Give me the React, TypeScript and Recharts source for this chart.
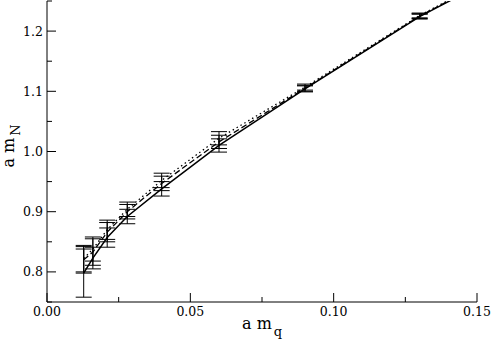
import { ErrorBar, Line, LineChart, XAxis, YAxis } from "recharts";

const mq = [0.0128, 0.016, 0.021, 0.028, 0.04, 0.06, 0.09, 0.13, 0.15];
const solidMN = [0.798, 0.823, 0.857, 0.892, 0.938, 1.01, 1.104, 1.224, 1.274];
const solidErr = [0.04, 0.018, 0.016, 0.012, 0.012, 0.011, 0.005, 0.004, null];
const dashedMN = [0.82, 0.833, 0.866, 0.9, 0.947, 1.016, 1.105, 1.225, 1.275];
const dashedErr = [0.022, 0.022, 0.016, 0.012, 0.012, 0.011, 0.005, 0.004, null];
const dottedMN = [0.822, 0.838, 0.87, 0.904, 0.952, 1.022, 1.107, 1.226, 1.276];
const dottedErr = [0.022, 0.02, 0.016, 0.012, 0.012, 0.011, 0.005, 0.004, null];

const xTicks = [0, 0.025, 0.05, 0.075, 0.1, 0.125, 0.15];
const xLabels = ["0.00", "", "0.05", "", "0.10", "", "0.15"];
const yTicks = [0.75, 0.8, 0.85, 0.9, 0.95, 1.0, 1.05, 1.1, 1.15, 1.2, 1.25];
const yLabels = ["", "0.8", "", "0.9", "", "1.0", "", "1.1", "", "1.2", ""];

const series = (ys: number[], errs: (number | null)[]) =>
  mq.map((x, i) => ({ x, y: ys[i], err: errs[i] }));

const font = '"DejaVu Serif", serif';
const GAP = 4;

function BottomTick(props: any) {
  const { x, y, index } = props;
  const major = xLabels[index] !== "";
  const axisY = y - GAP;
  return (
    <g>
      <line x1={x} x2={x} y1={axisY} y2={axisY - (major ? 9 : 5)} stroke="#000" />
      {major && (
        <text x={x} y={y + 10} textAnchor="middle" fontFamily={font} fontSize={12.5} fill="#000">
          {xLabels[index]}
        </text>
      )}
    </g>
  );
}

function TopTick(props: any) {
  const { x, y, index } = props;
  const major = xLabels[index] !== "";
  return <line x1={x} x2={x} y1={y} y2={y + (major ? 9 : 5)} stroke="#000" />;
}

function LeftTick(props: any) {
  const { x, y, index } = props;
  const major = yLabels[index] !== "";
  const axisX = x + GAP;
  return (
    <g>
      <line x1={axisX} x2={axisX + (major ? 9 : 5)} y1={y} y2={y} stroke="#000" />
      {major && (
        <text x={x} y={y + 4.5} textAnchor="end" fontFamily={font} fontSize={12.5} fill="#000">
          {yLabels[index]}
        </text>
      )}
    </g>
  );
}

function RightTick(props: any) {
  const { x, y, index } = props;
  const major = yLabels[index] !== "";
  return <line x1={x} x2={x - (major ? 9 : 5)} y1={y} y2={y} stroke="#000" />;
}

export default function App() {
  return (
    <div style={{ width: 491, height: 343, background: "#fff" }}>
      <style>{"body{margin:0}"}</style>
      <LineChart width={491} height={343} margin={{ top: 1, right: 14, left: 0, bottom: 0 }}>
        <XAxis
          xAxisId="b"
          type="number"
          dataKey="x"
          domain={[0, 0.15]}
          ticks={xTicks}
          interval={0}
          height={41}
          tickLine={false}
          tickSize={0}
          tickMargin={GAP}
          tick={<BottomTick />}
          axisLine={{ stroke: "#000" }}
          allowDataOverflow
          label={{
            position: "insideBottom",
            content: (p: any) => {
              const vb = p.viewBox;
              const cx = vb.x + vb.width / 2;
              return (
                <text x={cx - 20} y={vb.y + 27} fontFamily={font} fontSize={16} fill="#000">
                  a m
                  <tspan fontSize={13} dy={7} dx={2}>q</tspan>
                </text>
              );
            },
          }}
        />
        <XAxis
          xAxisId="t"
          orientation="top"
          type="number"
          dataKey="x"
          domain={[0, 0.15]}
          ticks={xTicks}
          interval={0}
          height={0}
          tickLine={false}
          tickSize={0}
          tickMargin={0}
          tick={<TopTick />}
          axisLine={{ stroke: "#000" }}
          allowDataOverflow
        />
        <YAxis
          yAxisId="l"
          type="number"
          domain={[0.75, 1.25]}
          ticks={yTicks}
          interval={0}
          width={47}
          tickLine={false}
          tickSize={0}
          tickMargin={GAP}
          tick={<LeftTick />}
          axisLine={{ stroke: "#000" }}
          allowDataOverflow
          label={{
            position: "insideLeft",
            content: (p: any) => {
              const vb = p.viewBox;
              const cy = vb.y + vb.height / 2;
              return (
                <text
                  transform={`translate(14, ${cy}) rotate(-90)`}
                  x={-16}
                  y={0}
                  fontFamily={font}
                  fontSize={16}
                  fill="#000"
                >
                  a m
                  <tspan fontSize={13} dy={6} dx={2}>N</tspan>
                </text>
              );
            },
          }}
        />
        <YAxis
          yAxisId="r"
          orientation="right"
          type="number"
          domain={[0.75, 1.25]}
          ticks={yTicks}
          interval={0}
          width={0}
          tickLine={false}
          tickSize={0}
          tickMargin={0}
          tick={<RightTick />}
          axisLine={{ stroke: "#000" }}
          allowDataOverflow
        />
        <Line
          xAxisId="b"
          yAxisId="l"
          data={series(solidMN, solidErr)}
          dataKey="y"
          stroke="#000"
          strokeWidth={1.5}
          dot={false}
          type="linear"
          isAnimationActive={false}
        >
          <ErrorBar dataKey="err" direction="y" width={8} stroke="#000" strokeWidth={1} />
        </Line>
        <Line
          xAxisId="b"
          yAxisId="l"
          data={series(dashedMN, dashedErr)}
          dataKey="y"
          stroke="#000"
          strokeWidth={1.3}
          strokeDasharray="6 3"
          dot={false}
          type="linear"
          isAnimationActive={false}
        >
          <ErrorBar dataKey="err" direction="y" width={8} stroke="#000" strokeWidth={1} />
        </Line>
        <Line
          xAxisId="b"
          yAxisId="l"
          data={series(dottedMN, dottedErr)}
          dataKey="y"
          stroke="#000"
          strokeWidth={1.3}
          strokeDasharray="1.5 3"
          dot={false}
          type="linear"
          isAnimationActive={false}
        >
          <ErrorBar dataKey="err" direction="y" width={8} stroke="#000" strokeWidth={1} />
        </Line>
      </LineChart>
    </div>
  );
}
